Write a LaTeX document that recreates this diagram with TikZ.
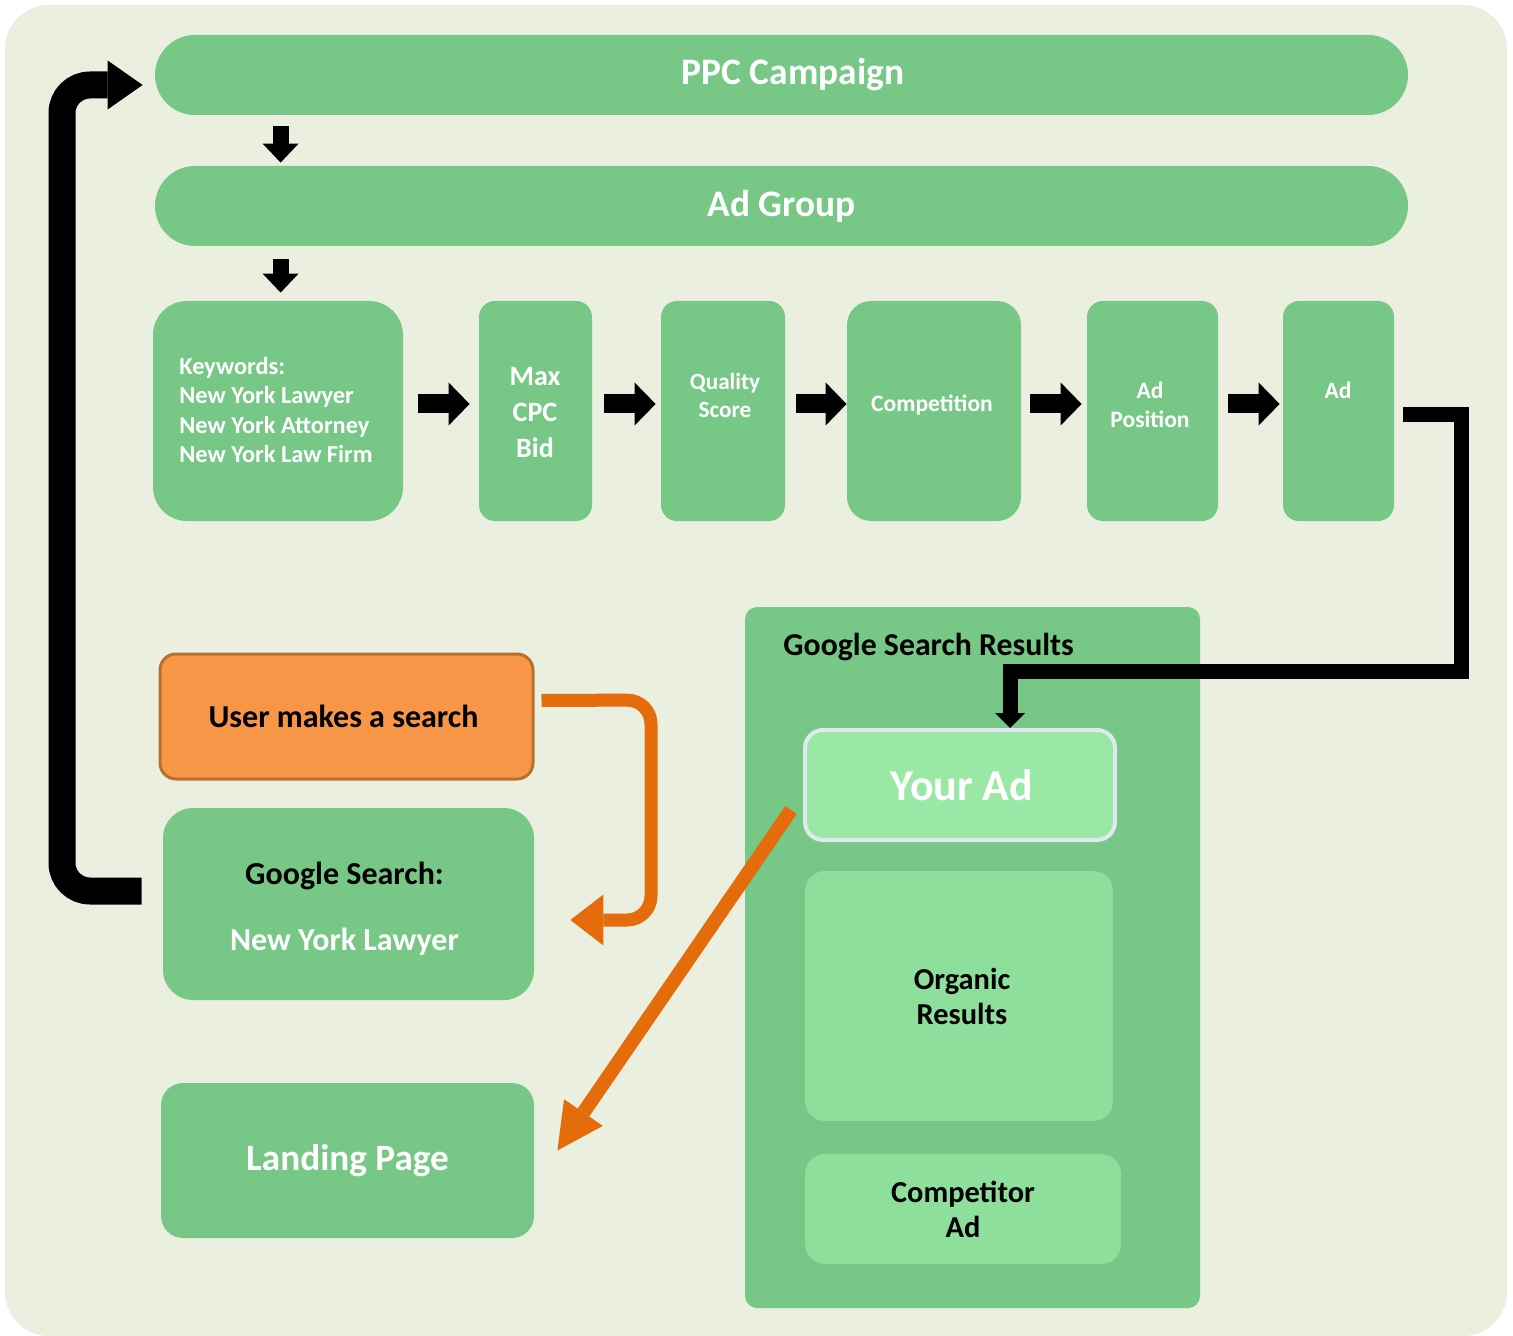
\documentclass[tikz,border=0pt]{standalone}
\usepackage{fontspec}
\setmainfont{Carlito}
\usetikzlibrary{arrows.meta}
\definecolor{bgc}{HTML}{EBEFDF}
\definecolor{grn}{HTML}{77C886}
\definecolor{lgrn}{HTML}{8EDE9C}
\definecolor{yadf}{HTML}{9AE8A5}
\definecolor{yadb}{HTML}{DDE9EF}
\definecolor{orf}{HTML}{F79646}
\definecolor{orb}{HTML}{B8702E}
\definecolor{ora}{HTML}{E46C0A}
\newcommand{\fsz}[2]{\fontsize{#1}{#2}\selectfont\bfseries}
\begin{document}
\begin{tikzpicture}[x=0.5pt,y=-0.5pt,
  gbox/.style={fill=grn, inner sep=0pt, align=center, text=white},
  pill/.style={gbox, rounded corners=20pt, minimum width=626.5pt, minimum height=40pt, font=\fsz{18.7}{23}},
  rowbox/.style={gbox, rounded corners=8pt, minimum height=110pt},
  txt/.style={align=center, text=white, inner sep=0pt},
  blockr/.style={line width=9.5pt, -{Triangle[length=10.5pt,width=21.5pt,line width=0pt]}},
  blockd/.style={line width=8pt, -{Triangle[length=9.5pt,width=18pt,line width=0pt]}},
  blkconn/.style={line width=7.5pt, line join=miter, -{Triangle[length=7.5pt,width=15pt,line width=0pt]}},
  loopconn/.style={line width=13.5pt, rounded corners=14pt, -{Triangle[length=17.5pt,width=24.5pt,line width=0pt]}},
  oraconn/.style={draw=ora, line width=6.5pt, rounded corners=12pt, -{Triangle[length=16.5pt,width=25.5pt,line width=0pt]}},
  lbox/.style={fill=lgrn, inner sep=0pt, align=center, text=black, font=\fsz{15.2}{17.5}},
]
\useasboundingbox (0,0) rectangle (1513,1336);
\fill[bgc, rounded corners=22pt] (5,5) rectangle (1507,1336);

% top pills
\node[pill] (ppc) at (781.5,75) {\hspace*{11.5pt}PPC Campaign};
\node[pill] (ag) at (781.5,206) {Ad Group};

% row boxes
\node[rowbox, rounded corners=17pt, minimum width=125pt] (kw) at (278,411) {};
\node[txt, align=left, font=\fsz{12.2}{14.75}, anchor=west] (kwt) at (179,410) {Keywords:\\New York Lawyer\\New York Attorney\\New York Law Firm};
\node[rowbox, minimum width=56.5pt] (mcp) at (535.5,411) {};
\node[txt, font=\fsz{14}{18}] (mcpt) at (535,413) {Max\\CPC\\Bid};
\node[rowbox, minimum width=62pt] (qs) at (723,411) {};
\node[txt, font=\fsz{11.6}{14}] (qst) at (725,395) {Quality\\Score};
\node[rowbox, rounded corners=12pt, minimum width=87pt] (comp) at (934,411) {};
\node[txt, font=\fsz{11.8}{14}] (compt) at (932,405) {Competition};
\node[rowbox, minimum width=65.5pt] (adp) at (1152.5,411) {};
\node[txt, font=\fsz{11.8}{14.5}] (adpt) at (1150,405) {Ad\\Position};
\node[rowbox, minimum width=55.5pt] (ad) at (1338.5,411) {};
\node[txt, font=\fsz{11.8}{14}] (adt) at (1338,390) {Ad};

% down arrows
\draw[blockd, shorten <=5.5pt, shorten >=1.5pt] ([xshift=63pt]ppc.south west) -- ([xshift=63pt]ag.north west);
\draw[blockd, shorten <=6.5pt, shorten >=4pt] ([xshift=63pt]ag.south west) -- ([xshift=63pt]ag.south west |- kw.north);

% right arrows
\draw[blockr, shorten <=7.5pt, shorten >=4.5pt] ([yshift=3.5pt]kw.east) -- ([yshift=3.5pt]mcp.west);
\draw[blockr, shorten <=6pt, shorten >=2.5pt] ([yshift=3.5pt]mcp.east) -- ([yshift=3.5pt]qs.west);
\draw[blockr, shorten <=5.5pt, shorten >=0pt] ([yshift=3.5pt]qs.east) -- ([yshift=3.5pt]comp.west);
\draw[blockr, shorten <=4.5pt, shorten >=2.5pt] ([yshift=3.5pt]comp.east) -- ([yshift=3.5pt]adp.west);
\draw[blockr, shorten <=5pt, shorten >=1.5pt] ([yshift=3.5pt]adp.east) -- ([yshift=3.5pt]ad.west);

% Google search results container
\node[fill=grn, rounded corners=6pt, minimum width=227.5pt, minimum height=350.5pt, inner sep=0pt] (gsr) at (972.5,957.5) {};
\node[anchor=west, inner sep=0pt, font=\fsz{15.9}{18}, text=black] (gsrt) at (783,647) {Google Search Results};
\node[draw=yadb, line width=2pt, fill=yadf, rounded corners=9pt, minimum width=155pt, minimum height=55pt, inner sep=0pt, text=white, font=\fsz{22}{26}] (yad) at (960,785) {\hspace*{2pt}Your Ad};
\node[lbox, rounded corners=10pt, minimum width=154pt, minimum height=125pt] (org) at (959,996) {\hspace*{3pt}Organic\\\hspace*{3pt}Results};
\node[lbox, rounded corners=10pt, minimum width=158pt, minimum height=55pt] (cad) at (963,1209) {Competitor\\Ad};

% left column
\node[fill=orf, draw=orb, line width=1.5pt, rounded corners=8pt, minimum width=186.5pt, minimum height=62.5pt, inner sep=0pt, font=\fsz{16}{19}, text=black] (usr) at (346.5,716.5) {User makes a search\hspace*{3pt}};
\node[gbox, rounded corners=15pt, minimum width=185.5pt, minimum height=96pt, font=\fsz{16}{33}] (gs) at (348.5,904) {\rule{0pt}{16.5pt}\textcolor{black}{Google Search:}\hspace*{4pt}\\New York Lawyer\hspace*{4pt}};
\node[gbox, rounded corners=11pt, minimum width=186.5pt, minimum height=77.5pt, font=\fsz{18.6}{22}] (lp) at (347.5,1160.5) {Landing Page};

% connectors
\draw[blkconn] ([xshift=4.5pt,yshift=-2pt]ad.east) -| (1461,671) -| ([xshift=25pt]yad.north) ;
\draw[loopconn] ([xshift=-10.5pt,yshift=6.5pt]gs.west) -- (62,891) -- (62,85) -- ([xshift=-6pt,yshift=-5pt]ppc.west);
\draw[oraconn] ([xshift=3.5pt,yshift=8pt]usr.east) -- (651,700) -- (651,920) -- ([xshift=18pt,yshift=-8pt]gs.east);
\draw[oraconn, rounded corners=0pt, line width=7pt, -{Triangle[length=23pt,width=23.5pt,line width=0pt]}] ([xshift=-6pt,yshift=-12.5pt]yad.west) -- ([xshift=11.5pt,yshift=5pt]lp.east);
\end{tikzpicture}
\end{document}
